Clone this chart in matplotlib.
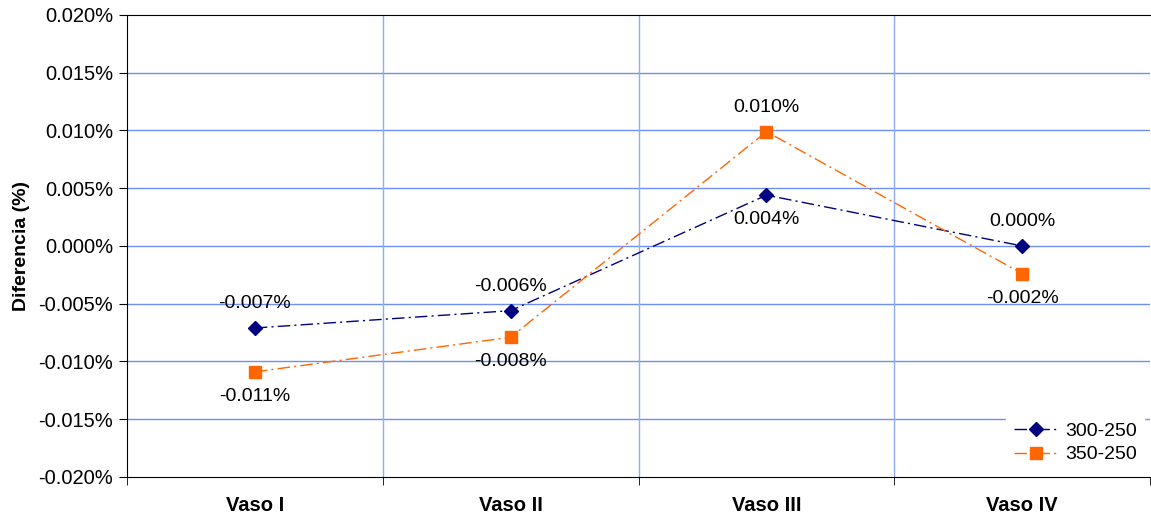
import numpy as np
import matplotlib.pyplot as plt
from matplotlib.ticker import FuncFormatter, FixedLocator

plt.rcParams['font.family'] = ['Liberation Sans', 'DejaVu Sans']

categories = ['Vaso I', 'Vaso II', 'Vaso III', 'Vaso IV']
serie_300 = [-0.0071, -0.0056, 0.0044, 0.0000]
serie_350 = [-0.0109, -0.0079, 0.0099, -0.0024]
# label above (+1) or below (-1) each point
pos_300 = [1, 1, -1, 1]
pos_350 = [-1, -1, 1, -1]

fig = plt.figure(figsize=(11.51, 5.17), dpi=100)
ax = fig.add_axes([0.1103, 0.0774, 0.889, 0.8936])

x = np.arange(len(categories))
grid_col = '#6f8ff5'

ax.plot(x, serie_300, color='#000080', linestyle=(0, (9, 3, 1.5, 3)), linewidth=1,
        marker='D', markersize=7, label='300-250', zorder=3)
ax.plot(x, serie_350, color='#ff6600', linestyle=(0, (9, 3, 1.5, 3)), linewidth=1,
        marker='s', markersize=9, label='350-250', zorder=3)

for xi, v, p in zip(x, serie_300, pos_300):
    ax.annotate(f'{v:.3f}%', (xi, v), xytext=(0, 17.5 * p), textcoords='offset points',
                ha='center', va='center', fontsize=14, zorder=4)
for xi, v, p in zip(x, serie_350, pos_350):
    ax.annotate(f'{v:.3f}%', (xi, v), xytext=(0, 17.5 * p), textcoords='offset points',
                ha='center', va='center', fontsize=14, zorder=4)

ax.set_xlim(-0.5, 3.5)
ax.set_ylim(-0.020, 0.020)
ax.set_yticks(np.arange(-0.020, 0.0201, 0.005))
ax.yaxis.set_major_formatter(FuncFormatter(lambda v, _: f'{v:.3f}%'))
ax.set_xticks(x)
ax.set_xticklabels(categories, fontweight='bold', fontsize=14.5)
ax.xaxis.set_minor_locator(FixedLocator([-0.5, 0.5, 1.5, 2.5, 3.5]))
ax.tick_params(axis='x', which='major', length=0, pad=14)
ax.tick_params(axis='x', which='minor', length=6, direction='out')
ax.tick_params(axis='y', length=6, direction='out', labelsize=14.5, pad=4)

for yv in np.arange(-0.015, 0.0151, 0.005):
    ax.axhline(yv, color=grid_col, linewidth=1, zorder=1)
for xv in [0.5, 1.5, 2.5]:
    ax.axvline(xv, color='#8faaf7', linewidth=1, zorder=1)

ax.set_ylabel('Diferencia (%)', fontweight='bold', fontsize=14, labelpad=6)

for s in ['left', 'bottom', 'top']:
    ax.spines[s].set_color('black')
ax.spines['right'].set_visible(False)

leg = ax.legend(loc='lower right', fontsize=14, frameon=True, fancybox=False,
                borderaxespad=0.3, handlelength=2.2, handletextpad=0.4, labelspacing=0.3)
leg.get_frame().set_edgecolor('white')
leg.get_frame().set_facecolor('white')
leg.get_frame().set_alpha(1)

fig.savefig('out.png', dpi=100)
